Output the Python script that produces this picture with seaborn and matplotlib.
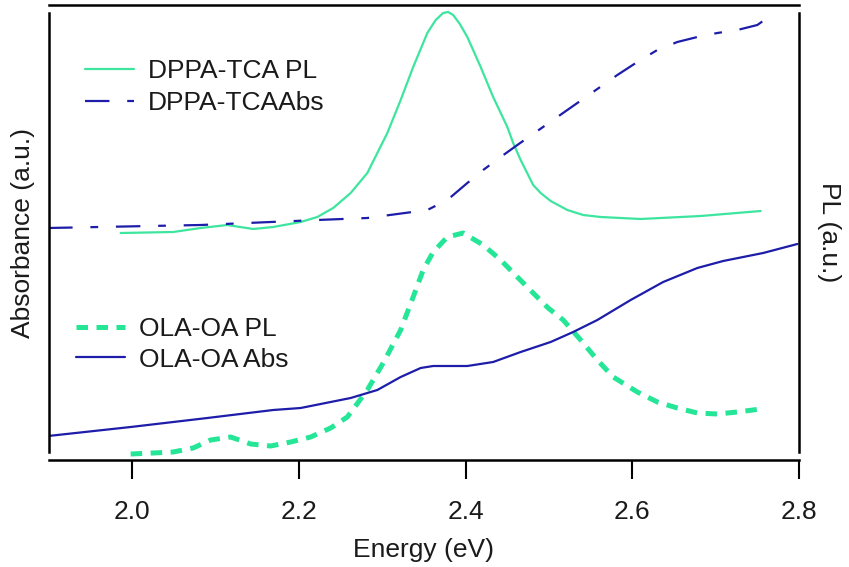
import numpy as np
import pandas as pd
import matplotlib
matplotlib.use("Agg")
import matplotlib.pyplot as plt
import seaborn as sns

# DONNEES (intensites en unites arbitraires)
energy_dppa_pl = [1.986, 2.049, 2.082, 2.114, 2.145, 2.169, 2.202, 2.222, 2.241, 2.262,
                  2.282, 2.306, 2.322, 2.337, 2.354, 2.364, 2.373, 2.379, 2.385, 2.393,
                  2.402, 2.418, 2.433, 2.450, 2.457, 2.466, 2.481, 2.490, 2.502, 2.522,
                  2.541, 2.562, 2.610, 2.682, 2.754]
dppa_pl = [219, 220, 224, 227, 223, 225, 230, 235, 244, 259,
           279, 319, 352, 385, 419, 432, 439, 440, 437, 428,
           415, 385, 355, 325, 309, 292, 267, 259, 251, 242,
           237, 235, 233, 236, 241]

energy_dppa_abs = [1.899, 2.082, 2.222, 2.282, 2.354, 2.378, 2.402, 2.421, 2.442, 2.462,
                   2.486, 2.510, 2.534, 2.558, 2.582, 2.606, 2.630, 2.654, 2.678, 2.702,
                   2.726, 2.750, 2.772]
dppa_abs = [224, 227, 232, 234, 242, 252, 269, 282, 295, 307,
            321, 335, 349, 363, 377, 390, 402, 410, 415, 419,
            422, 427, 440]

energy_ola_pl = [1.998, 2.025, 2.049, 2.073, 2.094, 2.118, 2.142, 2.166, 2.190, 2.214,
                 2.238, 2.258, 2.282, 2.301, 2.322, 2.337, 2.349, 2.361, 2.378, 2.397,
                 2.421, 2.442, 2.462, 2.481, 2.499, 2.517, 2.538, 2.558, 2.577, 2.606,
                 2.630, 2.654, 2.678, 2.702, 2.726, 2.754]
ola_pl = [-2, -1, 0, 4, 12, 15, 8, 6, 10, 15,
          24, 35, 62, 89, 122, 155, 182, 200, 215, 219,
          207, 192, 175, 159, 144, 132, 112, 92, 75, 60,
          50, 44, 39, 38, 40, 43]

energy_ola_abs = [1.899, 1.998, 2.090, 2.169, 2.202, 2.238, 2.262, 2.294, 2.322, 2.346,
                  2.361, 2.402, 2.433, 2.466, 2.502, 2.529, 2.558, 2.598, 2.637, 2.678,
                  2.709, 2.757, 2.798]
ola_abs = [16, 25, 34, 42, 44, 50, 54, 62, 75, 84,
           86, 86, 90, 100, 110, 120, 132, 152, 170, 184,
           191, 199, 208]

xticks = [2.0, 2.2, 2.4, 2.6, 2.8]
xtick_labels = ["2.0", "2.2", "2.4", "2.6", "2.8"]

GREEN = "#3de59e"
GREEN_DASH = "#25e696"
NAVY = "#1d1daa"
TXT = "#1a1a1a"

# STYLE
sns.set_style("ticks")
plt.rcParams['font.family'] = ['Liberation Sans', 'DejaVu Sans']
plt.rcParams['font.size'] = 19
plt.rcParams['text.color'] = TXT
plt.rcParams['axes.labelcolor'] = TXT
plt.rcParams['xtick.labelcolor'] = TXT

fig = plt.figure(figsize=(8.49, 5.67), dpi=100)
ax = fig.add_axes([49 / 849, 107 / 567, 750 / 849, 455 / 567])

sns.lineplot(x=energy_dppa_pl, y=dppa_pl, ax=ax, color=GREEN, lw=1.6,
             label="DPPA-TCA PL")
sns.lineplot(x=energy_dppa_abs, y=dppa_abs, ax=ax, color=NAVY, lw=1.6,
             linestyle=(0, (11, 8, 3.5, 8)), label="DPPA-TCAAbs")
sns.lineplot(x=energy_ola_pl, y=ola_pl, ax=ax, color=GREEN_DASH, lw=3.6,
             linestyle=(0, (2.3, 1.7)), label="OLA-OA PL")
sns.lineplot(x=energy_ola_abs, y=ola_abs, ax=ax, color=NAVY, lw=1.6,
             label="OLA-OA Abs")

ax.set_xlim(1.9, 2.8)
ax.set_ylim(-8, 447)
ax.set_xticks(xticks)
ax.set_xticklabels(xtick_labels)
ax.set_yticks([])
ax.tick_params(axis='x', direction='out', length=14, width=1.5, pad=15, color='black')

for s in ax.spines.values():
    s.set_visible(True)
    s.set_linewidth(1.8)
    s.set_color('black')
ax.spines['left'].set_bounds(0, 439)
ax.spines['right'].set_bounds(0, 439)

ax.set_xlabel("Energy (eV)", labelpad=10)
ax.set_ylabel("Absorbance (a.u.)", labelpad=10)

ax2 = ax.twinx()
ax2.set_yticks([])
for s in ax2.spines.values():
    s.set_visible(False)
ax2.set_ylabel("PL (a.u.)", rotation=270, labelpad=30)

# Legendes
handles, labels = ax.get_legend_handles_labels()
ax.get_legend().remove()
fig.legend(handles[:2], labels[:2], loc='upper left',
           bbox_to_anchor=(85 / 849, 1 - 59 / 567), frameon=False,
           borderpad=0, borderaxespad=0, handlelength=1.85,
           handletextpad=0.55, labelspacing=0.3, fontsize=19)
fig.legend(handles[2:], labels[2:], loc='upper left',
           bbox_to_anchor=(76 / 849, 1 - 317 / 567), frameon=False,
           borderpad=0, borderaxespad=0, handlelength=1.85,
           handletextpad=0.55, labelspacing=0.25, fontsize=19)

fig.savefig("out.png", dpi=100)
